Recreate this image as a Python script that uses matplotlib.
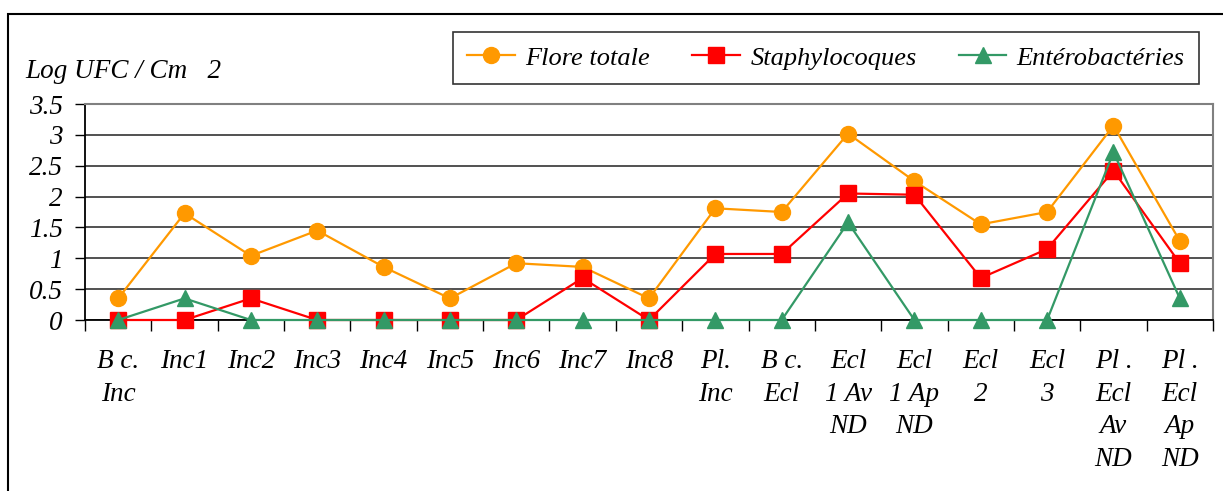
import matplotlib
matplotlib.use("Agg")
import matplotlib.pyplot as plt
from matplotlib.patches import Rectangle
from matplotlib.ticker import FixedLocator

categories = ["B c.\nInc", "Inc1", "Inc2", "Inc3", "Inc4", "Inc5", "Inc6", "Inc7",
              "Inc8", "Pl.\nInc", "B c.\nEcl", "Ecl\n1 Av\nND", "Ecl\n1 Ap\nND",
              "Ecl\n2", "Ecl\n3", "Pl .\nEcl\nAv\nND", "Pl .\nEcl\nAp\nND"]
flore_totale = [0.35, 1.73, 1.04, 1.45, 0.86, 0.35, 0.92, 0.86, 0.35, 1.81, 1.75,
                3.02, 2.25, 1.55, 1.75, 3.15, 1.28]
staphylocoques = [0, 0, 0.35, 0, 0, 0, 0, 0.68, 0, 1.07, 1.07,
                  2.05, 2.03, 0.68, 1.15, 2.42, 0.92]
enterobacteries = [0, 0.35, 0, 0, 0, 0, 0, 0, 0, 0, 0,
                   1.58, 0, 0, 0, 2.72, 0.35]
y_ticks = [0, 0.5, 1, 1.5, 2, 2.5, 3, 3.5]
y_tick_labels = ["0", "0.5", "1", "1.5", "2", "2.5", "3", "3.5"]

plt.rcParams["font.family"] = ["Liberation Serif", "DejaVu Serif"]
plt.rcParams["font.style"] = "italic"

W, H = 1223, 491
fig = plt.figure(figsize=(W / 100, H / 100), dpi=100)

# outer chart frame (open on the right and bottom)
fig.patches.append(Rectangle((8 / W, -0.1), 1.2, 1 - 14 / H + 0.1,
                             transform=fig.transFigure, fill=False,
                             edgecolor="black", linewidth=1.5))

left, right, top, bottom = 85, 1213, 104, 320
ax = fig.add_axes([left / W, 1 - bottom / H, (right - left) / W, (bottom - top) / H])

x = list(range(len(categories)))
ax.plot(x, flore_totale, color="#FF9900", marker="o", markersize=11.5,
        linewidth=1.6, label="Flore totale", zorder=3, clip_on=False)
ax.plot(x, staphylocoques, color="#FF0000", marker="s", markersize=11,
        linewidth=1.6, label="Staphylocoques", zorder=4, clip_on=False)
ax.plot(x, enterobacteries, color="#339966", marker="^", markersize=11.5,
        linewidth=1.6, label="Entérobactéries", zorder=5, clip_on=False)

ax.set_xlim(-0.5, len(categories) - 0.5)
ax.set_ylim(0, 3.5)
ax.set_yticks(y_ticks)
ax.set_yticklabels(y_tick_labels)
ax.grid(axis="y", color="#222222", linewidth=1.1)
ax.set_axisbelow(True)

ax.xaxis.set_major_locator(FixedLocator(x))
ax.set_xticklabels(categories, va="top", linespacing=1.4)
ax.xaxis.set_minor_locator(FixedLocator([i - 0.5 for i in range(len(categories) + 1)]))
ax.tick_params(axis="x", which="major", length=0, pad=21, labelsize=19.5)
ax.tick_params(axis="x", which="minor", length=8, width=1, color="black")
ax.tick_params(axis="y", length=7, width=1, labelsize=19.5, pad=9)

for s in ("left", "bottom"):
    ax.spines[s].set_color("black")
    ax.spines[s].set_linewidth(1.3)
for s in ("top", "right"):
    ax.spines[s].set_color("#808080")
    ax.spines[s].set_linewidth(1.5)

fig.text(25 / W, 1 - 72 / H, "Log UFC / Cm   2", fontsize=19.5, va="center", ha="left")

leg = fig.legend(loc="center", bbox_to_anchor=((452 + 1200) / 2 / W, 1 - 58 / H),
                 ncol=3, fontsize=19, frameon=True, fancybox=False,
                 handlelength=1.8, columnspacing=1.6, handletextpad=0.4,
                 borderpad=0.55, borderaxespad=0)
leg.get_frame().set_edgecolor("black")
leg.get_frame().set_linewidth(1.2)

fig.savefig("out.png", dpi=100)
